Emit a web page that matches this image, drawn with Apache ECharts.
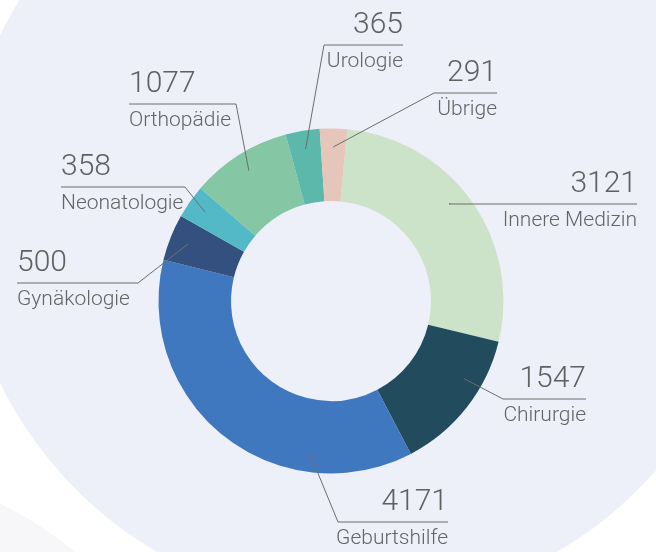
<!DOCTYPE html>
<html>
<head>
<meta charset="utf-8">
<title>Fälle nach Fachabteilung</title>
<script src="https://cdn.jsdelivr.net/npm/echarts@6/dist/echarts.min.js"></script>
<style>
html, body { margin: 0; padding: 0; background: #fff; }
#chart { width: 656px; height: 552px; }
</style>
</head>
<body>
<div id="chart"></div>
<script>
// Fachabteilungen und Fallzahlen, im Uhrzeigersinn ab 12 Uhr
var categories = ['Innere Medizin', 'Chirurgie', 'Geburtshilfe', 'Gynäkologie', 'Neonatologie', 'Orthopädie', 'Urologie', 'Übrige'];
var values = [3121, 1547, 4171, 500, 358, 1077, 365, 291];
var colors = ['#cce3c9', '#224b5d', '#3f78bf', '#34507f', '#53b9c7', '#85c6a5', '#5bb8aa', '#e6c6ba'];

// Beschriftung: Höhe des Unterstrichs, linkes/rechtes Ende, Seite
var labelPos = [
    {y: 204, x1: 449, x2: 637, side: 'right'},
    {y: 399, x1: 503, x2: 586, side: 'right'},
    {y: 522, x1: 338, x2: 448, side: 'right'},
    {y: 283, x1: 17,  x2: 138, side: 'left'},
    {y: 187, x1: 61,  x2: 185, side: 'left'},
    {y: 104, x1: 129, x2: 236, side: 'left'},
    {y: 45,  x1: 324, x2: 403, side: 'right'},
    {y: 93,  x1: 434, x2: 497, side: 'right'}
];
// wo die Führungslinie im Segment ansetzt (Anteil des Segmentwinkels)
var anchorFrac = [0.46, 0.34, 0.27, 0.5, 0.5, 0.5, 0.5, 0.5];

var cx = 331, cy = 301, startAngle = 84.6, anchorR = 154;
var total = 0;
for (var i = 0; i < values.length; i++) total += values[i];

function anchorPoint(idx) {
    var before = 0;
    for (var k = 0; k < idx; k++) before += values[k];
    var a = (startAngle - (before + values[idx] * anchorFrac[idx]) / total * 360) * Math.PI / 180;
    return [cx + anchorR * Math.cos(a), cy - anchorR * Math.sin(a)];
}

var ringData = [], labelData = [];
for (var j = 0; j < categories.length; j++) {
    ringData.push({name: categories[j], value: values[j], itemStyle: {color: colors[j]}});
    labelData.push({name: categories[j], value: values[j]});
}

var chart = echarts.init(document.getElementById('chart'), null, {renderer: 'canvas'});
var option = {
    backgroundColor: '#ffffff',
    animation: false,
    graphic: [{
        type: 'circle', z: -10, silent: true,
        shape: {cx: -150, cy: 820, r: 350},
        style: {fill: '#f7f6f9'}
    }, {
        type: 'circle', z: -9, silent: true,
        shape: {cx: 357, cy: 209, r: 397},
        style: {fill: '#edeff9'}
    }],
    series: [{
        // der Ring selbst
        type: 'pie',
        z: 2,
        center: [cx, cy],
        radius: [100, 172.5],
        startAngle: startAngle,
        clockwise: true,
        silent: true,
        itemStyle: {borderWidth: 0},
        label: {show: false},
        labelLine: {show: false},
        data: ringData
    }, {
        // transparente Kopie, nur für Beschriftung und Führungslinien über dem Ring
        type: 'pie',
        z: 5,
        center: [cx, cy],
        radius: [100, 172.5],
        startAngle: startAngle,
        clockwise: true,
        avoidLabelOverlap: false,
        silent: true,
        itemStyle: {color: 'rgba(0,0,0,0)', borderWidth: 0},
        label: {
            show: true,
            position: 'outside',
            formatter: '{v|{c}}\n{n|{b}}',
            color: '#666666',
            rich: {
                v: {fontFamily: 'Roboto', fontWeight: 300, fontSize: 30, lineHeight: 40, color: '#606060'},
                n: {fontFamily: 'Roboto', fontWeight: 300, fontSize: 21, lineHeight: 34, color: '#646464'}
            }
        },
        labelLine: {
            show: true,
            smooth: false,
            lineStyle: {color: '#6e6e6e', width: 1}
        },
        labelLayout: function (p) {
            var lp = labelPos[p.dataIndex];
            var right = lp.side == 'right';
            var start = anchorPoint(p.dataIndex);
            var elbow = right ? [lp.x1, lp.y] : [lp.x2, lp.y];
            var end = right ? [lp.x2, lp.y] : [lp.x1, lp.y];
            return {
                x: right ? lp.x2 : lp.x1,
                y: lp.y - 40,
                align: right ? 'right' : 'left',
                verticalAlign: 'top',
                labelLinePoints: [start, elbow, end]
            };
        },
        data: labelData
    }]
};
chart.setOption(option);
</script>
</body>
</html>
